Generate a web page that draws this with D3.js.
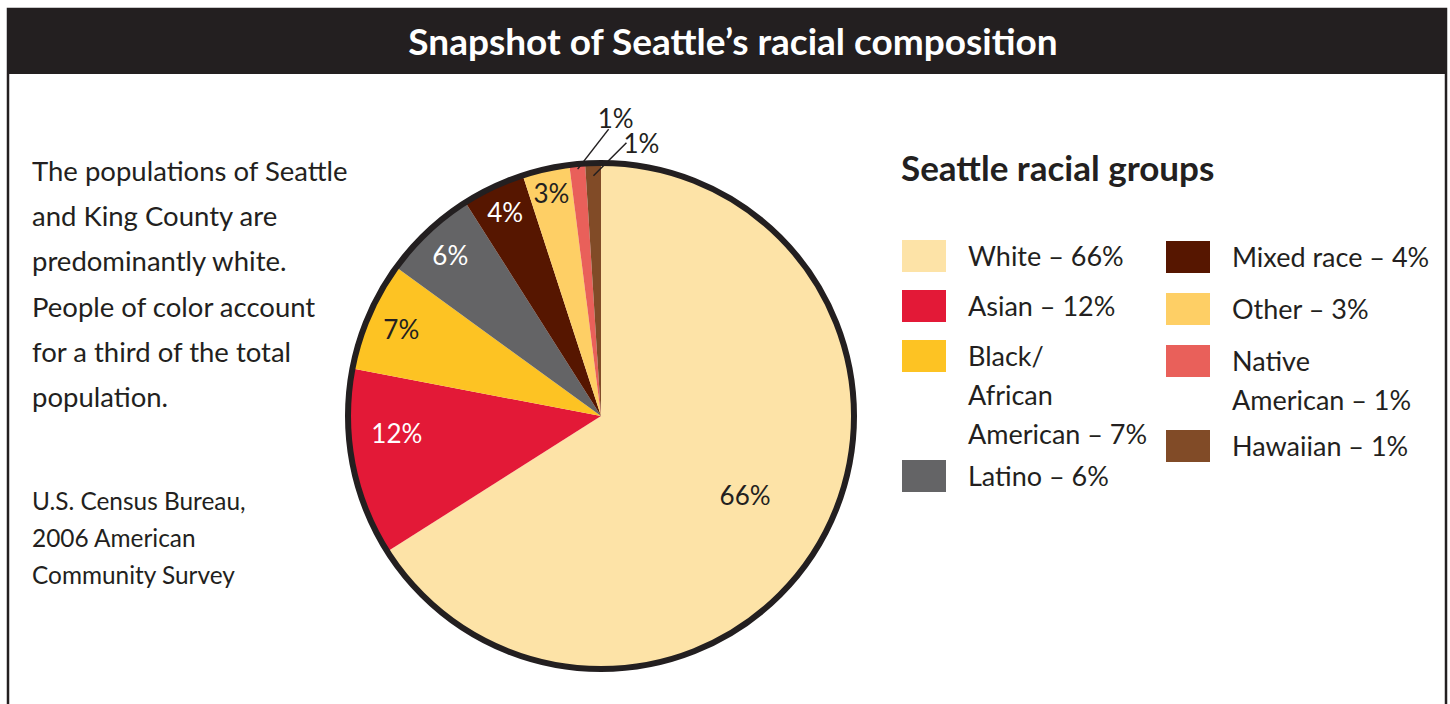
<!DOCTYPE html>
<html>
<head>
    <title>Snapshot of Seattle's racial composition</title>
    <meta charset="utf-8" />
</head>
<body style="margin:0;background:#fff;">
    <style>
        text {
            font-family: Lato, "Open Sans", sans-serif;
            fill: #231f20;
        }
        .slice {
            stroke: none;
        }
    </style>
    <script src="https://d3js.org/d3.v7.min.js"></script>
    <script>
// data
var groups = ["White", "Asian", "Black/|African|American", "Latino", "Mixed race", "Other", "Native|American", "Hawaiian"];
var percents = [66, 12, 7, 6, 4, 3, 1, 1];
var colors = ["#fde3a7", "#e31937", "#fdc323", "#646466", "#561600", "#fecf65", "#e9605a", "#814b27"];
var labelColors = ["#231f20", "#fff", "#231f20", "#fff", "#fff", "#231f20", "#231f20", "#231f20"];
var introLines = ["The populations of Seattle", "and King County are", "predominantly white.", "People of color account", "for a third of the total", "population."];
var sourceLines = ["U.S. Census Bureau,", "2006 American", "Community Survey"];

var width = 1450,
    height = 704;

var svg = d3.select("body").append("svg")
    .attr("width", width)
    .attr("height", height);

// frame + header bar
svg.append("rect")
    .attr("x", 8).attr("y", 9)
    .attr("width", 1438).attr("height", 720)
    .style("fill", "none").style("stroke", "#231f20").style("stroke-width", 2.5);
svg.append("rect")
    .attr("x", 7).attr("y", 9)
    .attr("width", 1440).attr("height", 65)
    .style("fill", "#231f20");
svg.append("text")
    .attr("x", 733).attr("y", 55)
    .attr("text-anchor", "middle")
    .style("fill", "#fff")
    .style("font-size", "37px")
    .style("font-weight", "bold")
    .text("Snapshot of Seattle\u2019s racial composition");

// left notes
svg.append("g").selectAll("text")
    .data(introLines)
    .enter().append("text")
    .attr("x", 32)
    .attr("y", function(d, i) { return 181 + i * 45.2; })
    .style("font-size", "27.5px")
    .text(function(d) { return d; });

svg.append("g").selectAll("text")
    .data(sourceLines)
    .enter().append("text")
    .attr("x", 32)
    .attr("y", function(d, i) { return 510 + i * 37; })
    .style("font-size", "24.4px")
    .text(function(d) { return d; });

// pie
var cx = 601, cy = 416, R = 253;
var data = percents.map(function(v, i) { return {name: groups[i], value: v, i: i}; });

var pie = d3.pie()
    .sort(null)
    .value(function(d) { return d.value; });

var arc = d3.arc().innerRadius(0).outerRadius(R);
var arcs = pie(data);

var pg = svg.append("g").attr("transform", "translate(" + cx + "," + cy + ")");

pg.selectAll(".slice")
    .data(arcs)
    .enter().append("path")
    .attr("class", "slice")
    .attr("d", arc)
    .style("fill", function(d) { return colors[d.data.i]; });

pg.append("circle")
    .attr("r", R)
    .style("fill", "none")
    .style("stroke", "#231f20")
    .style("stroke-width", 6);

// labels inside the slices
pg.selectAll(".plabel")
    .data(arcs.filter(function(d) { return d.data.value > 1; }))
    .enter().append("text")
    .attr("class", "plabel")
    .attr("transform", function(d) {
        var r = d.data.value > 50 ? R * 0.65 : R * (0.93 - 0.01 * d.data.value);
        // the big red slice label sits a bit higher in the original
        var shift = d.data.value > 10 && d.data.value < 50 ? 0.1 : 0;
        var a = { startAngle: d.startAngle + shift, endAngle: d.endAngle + shift };
        var c = d3.arc().innerRadius(r).outerRadius(r).centroid(a);
        return "translate(" + c[0] + "," + c[1] + ")";
    })
    .attr("text-anchor", "middle")
    .attr("dy", "0.36em")
    .style("font-size", "26px")
    .style("fill", function(d) { return labelColors[d.data.i]; })
    .text(function(d) { return d.data.value + "%"; });

// small slices: leader lines out to the top
var small = arcs.filter(function(d) { return d.data.value <= 1; });
small.forEach(function(d, k) {
    var r0 = R * (0.98 - 0.03 * k);
    var p0 = d3.arc().innerRadius(r0).outerRadius(r0).centroid(d);
    var p1 = [p0[0] + 31 + 2 * k, p0[1] - 40 + 7 * k];
    pg.append("line")
        .attr("x1", p0[0]).attr("y1", p0[1])
        .attr("x2", p1[0]).attr("y2", p1[1])
        .style("stroke", "#231f20")
        .style("stroke-width", 1.5);
    pg.append("text")
        .attr("x", p1[0] - 11 + 8 * k)
        .attr("y", p1[1] - 1 + 11 * k)
        .style("font-size", "26px")
        .text(d.data.value + "%");
});

// legend
svg.append("text")
    .attr("x", 901).attr("y", 181)
    .style("font-size", "35px")
    .style("font-weight", "bold")
    .text("Seattle racial groups");

var cols = [
    {x: 902, y: 240, step: 50, extra: 35, items: [0, 1, 2, 3]},
    {x: 1166, y: 241, step: 52, extra: 33, items: [4, 5, 6, 7]}
];
cols.forEach(function(col) {
    var y = col.y;
    col.items.forEach(function(i) {
        var lines = groups[i].split("|");
        lines[lines.length - 1] += " \u2013 " + percents[i] + "%";
        var lg = svg.append("g").attr("transform", "translate(" + col.x + "," + y + ")");
        lg.append("rect")
            .attr("width", 44).attr("height", 32)
            .style("fill", colors[i]);
        lg.selectAll("text")
            .data(lines)
            .enter().append("text")
            .attr("x", 66)
            .attr("y", function(d, j) { return 26 + j * 39; })
            .style("font-size", "27px")
            .text(function(d) { return d; });
        y += col.step + (lines.length - 1) * col.extra;
    });
});
</script>

</body>
</html>
